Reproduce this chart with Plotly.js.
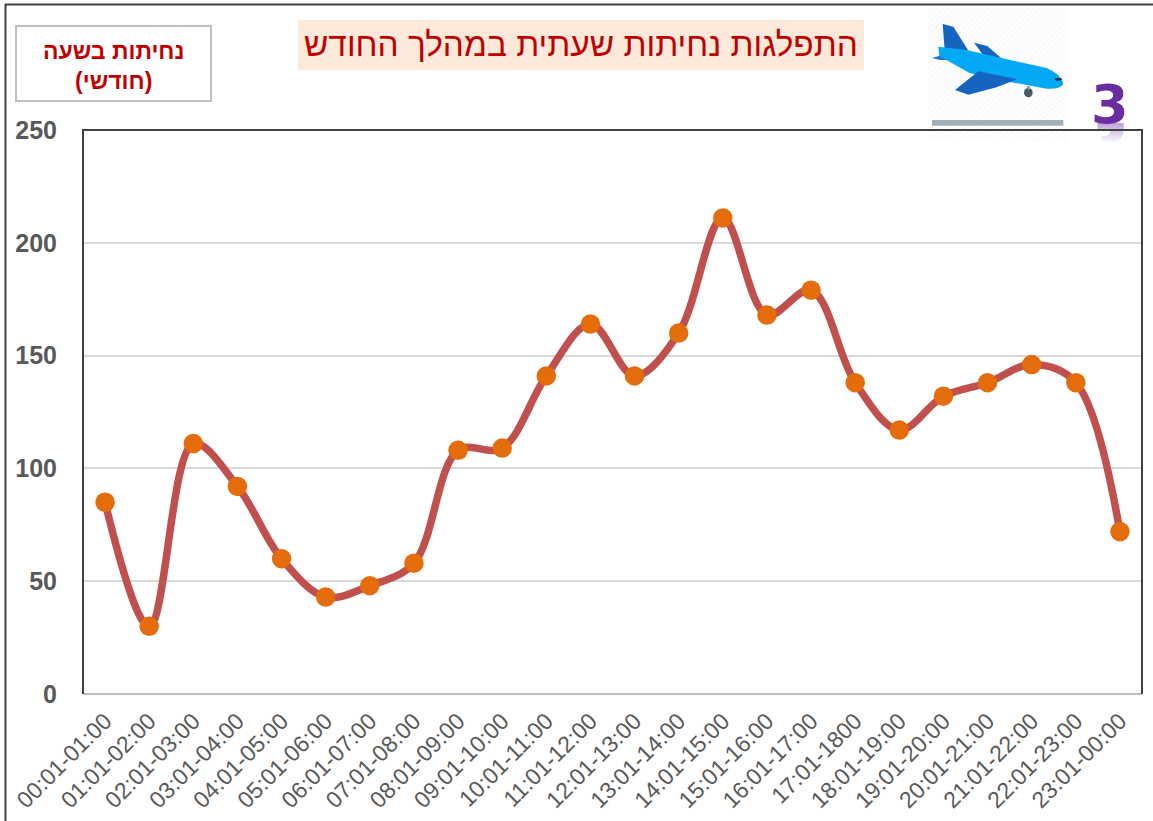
<!DOCTYPE html>
<html>
<head>
<meta charset="utf-8">
<script src="https://cdn.plot.ly/plotly-3.0.1.min.js"></script>
<style>html,body{margin:0;padding:0;background:#fff;overflow:hidden}#chart{width:1153px;height:821px}</style>
</head>
<body>
<div id="chart"></div>
<script>
const hours = ["00:01-01:00","01:01-02:00","02:01-03:00","03:01-04:00","04:01-05:00","05:01-06:00","06:01-07:00","07:01-08:00","08:01-09:00","09:01-10:00","10:01-11:00","11:01-12:00","12:01-13:00","13:01-14:00","14:01-15:00","15:01-16:00","16:01-17:00","17:01-1800","18:01-19:00","19:01-20:00","20:01-21:00","21:01-22:00","22:01-23:00","23:01-00:00"];
const landings = [85,30,111,92,60,43,48,58,108,109,141,164,141,160,211,168,179,138,117,132,138,146,138,72];
const yTicks = [0,50,100,150,200,250];
const titleText = "התפלגות נחיתות שעתית במהלך החודש";
const boxText = "נחיתות בשעה<br>(חודשי)";

const W = 1153, H = 821, L = 83, R = 1142, T = 130, B = 694;
const px = x => (x - L) / (R - L);
const py = y => (B - y) / (B - T);
const seg = (x0, y0, x1, y1, color, width) => ({type:"line", xref:"paper", yref:"paper", x0:px(x0), y0:py(y0), x1:px(x1), y1:py(y1), line:{color, width}, layer:"above"});

const planeSvg = `<svg xmlns="http://www.w3.org/2000/svg" width="759" height="480" viewBox="0 0 759 480">
<defs><pattern id="h" width="12" height="12" patternUnits="userSpaceOnUse" patternTransform="rotate(-45)"><rect width="12" height="12" fill="#ffffff"/><rect width="12" height="4" fill="#f8f8f8"/></pattern></defs>
<rect x="84" y="25" width="422" height="400" fill="url(#h)"/>
<path d="M128 72 L160 80 L204 150 L134 150 Z" fill="#1565C0"/>
<path d="M222 128 L262 138 L306 176 L250 166 Z" fill="#1565C0"/>
<path d="M96 174 L130 164 L170 180 L120 180 Z" fill="#1976D2"/>
<ellipse cx="385" cy="278" rx="13" ry="14" fill="#455A64"/>
<rect x="382" y="258" width="7" height="12" fill="#78909C"/>
<path d="M115 140 L200 150 L320 178 L440 204 Q486 224 490 252 Q482 268 440 266 L330 246 L210 220 L118 168 Z" fill="#03A9F4"/>
<path d="M235 214 L352 238 L290 262 L205 284 L165 270 Z" fill="#1565C0"/>
<ellipse cx="475" cy="238" rx="11" ry="4" fill="#263238"/>
<rect x="96" y="360" width="394" height="17" fill="#9FB0B8"/>
</svg>`;
const reflectSvg = `<svg xmlns="http://www.w3.org/2000/svg" width="40" height="24" viewBox="0 0 40 24">
<defs><linearGradient id="g" x1="0" y1="0" x2="0" y2="1"><stop offset="0" stop-color="#7030A0" stop-opacity="0.45"/><stop offset="1" stop-color="#7030A0" stop-opacity="0"/></linearGradient></defs>
<path d="M4 0 H36 Q38 12 29 18 Q20 23 11 19 L8 13 Q18 15 20 8 Q19 5 4 6 Z" fill="url(#g)"/>
</svg>`;
const uri = s => "data:image/svg+xml;charset=utf-8," + encodeURIComponent(s);
const img = (src, x, y, w, h) => ({source:uri(src), xref:"paper", yref:"paper", x:px(x), y:py(y), sizex:w/(R-L), sizey:h/(B-T), xanchor:"left", yanchor:"top", sizing:"stretch", layer:"below"});

const trace = {
  x: hours, y: landings, type:"scatter", mode:"lines+markers",
  line:{shape:"spline", smoothing:1, color:"#C0504D", width:7.5},
  marker:{size:19.5, color:"#E46C0A"},
  cliponaxis:false, hoverinfo:"x+y"
};

const layout = {
  width:W, height:H, showlegend:false,
  paper_bgcolor:"#ffffff", plot_bgcolor:"rgba(0,0,0,0)",
  font:{family:"'Liberation Sans', Arial, sans-serif", color:"#595959"},
  margin:{l:L, r:W-R, t:T, b:H-B, pad:0},
  xaxis:{type:"category", range:[-0.5,23.5], tickangle:-45, showgrid:false, zeroline:false, showline:false, ticks:"", ticklabelstandoff:8, tickfont:{size:23, color:"#595959", family:"'Liberation Sans', Arial, sans-serif"}, automargin:false, tickmode:"array", tickvals:hours, ticktext:hours},
  yaxis:{range:[0,250], tickmode:"array", tickvals:yTicks, ticktext:yTicks.map(String), showgrid:true, gridcolor:"#D9D9D9", gridwidth:2, zeroline:false, showline:false, ticks:"", ticklabelstandoff:25, tickfont:{size:25, color:"#595959", family:"'Liberation Sans', Arial, sans-serif", weight:"bold"}, automargin:false},
  shapes:[
    {type:"rect", xref:"paper", yref:"paper", x0:px(298), x1:px(864), y0:py(20), y1:py(70), fillcolor:"#FDE9D9", line:{width:0}, layer:"below"},
    {type:"rect", xref:"paper", yref:"paper", x0:px(16), x1:px(211), y0:py(26), y1:py(101), fillcolor:"#ffffff", line:{color:"#BFBFBF", width:2}, layer:"below"},
    seg(5,4.5,1153,4.5,"#404040",2),
    seg(5.5,4,5.5,821,"#404040",2),
    seg(83,694,1142,694,"#BFBFBF",2),
    seg(83,130,1143,130,"#404040",2),
    seg(83,129,83,694,"#404040",2),
    seg(1142,129,1142,694,"#404040",2)
  ],
  images:[img(planeSvg,900,0,253,160), img(reflectSvg,1094,123,33,24)],
  annotations:[
    {xref:"paper", yref:"paper", x:px(581), y:py(45), text:titleText, showarrow:false, xanchor:"center", yanchor:"middle", font:{size:33.4, color:"#C00000", family:"'Liberation Sans', Arial, sans-serif"}},
    {xref:"paper", yref:"paper", x:px(113.5), y:py(66), text:boxText, showarrow:false, xanchor:"center", yanchor:"middle", align:"center", font:{size:23, color:"#C00000", family:"'Liberation Sans', Arial, sans-serif", weight:"bold"}},
    {xref:"paper", yref:"paper", x:px(1110), y:py(104), text:"3", showarrow:false, xanchor:"center", yanchor:"middle", font:{size:54, color:"#6A2CA0", family:"'DejaVu Sans', sans-serif", weight:"bold"}}
  ]
};
Plotly.newPlot("chart",[trace],layout,{displayModeBar:false,staticPlot:true});
</script>
</body>
</html>
